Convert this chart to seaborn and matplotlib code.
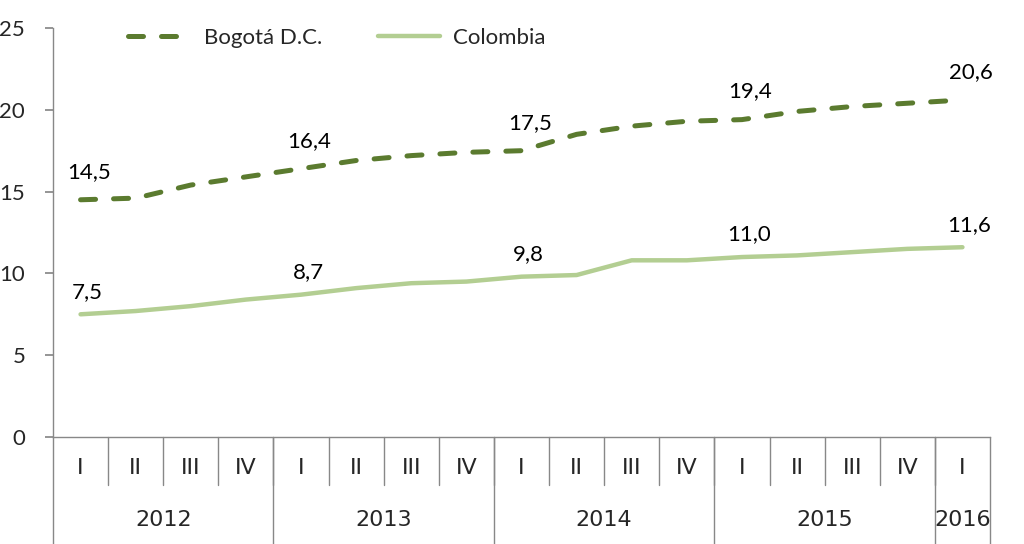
import matplotlib
matplotlib.use("Agg")
import matplotlib.pyplot as plt
import seaborn as sns
import pandas as pd
import numpy as np

quarters = ["I", "II", "III", "IV", "I", "II", "III", "IV", "I", "II", "III", "IV",
            "I", "II", "III", "IV", "I"]
years = ["2012", "2013", "2014", "2015", "2016"]
year_sizes = [4, 4, 4, 4, 1]
bogota = [14.5, 14.6, 15.4, 15.9, 16.4, 16.9, 17.2, 17.4, 17.5, 18.5, 19.0, 19.3,
          19.4, 19.9, 20.2, 20.4, 20.6]
colombia = [7.5, 7.7, 8.0, 8.4, 8.7, 9.1, 9.4, 9.5, 9.8, 9.9, 10.8, 10.8,
            11.0, 11.1, 11.3, 11.5, 11.6]
label_idx = [0, 4, 8, 12, 16]

sns.set_theme(style="white")
plt.rcParams['font.family'] = ['Lato', 'DejaVu Sans']

n = len(quarters)
df = pd.DataFrame({
    "x": list(range(n)) * 2,
    "valor": bogota + colombia,
    "serie": ["Bogotá D.C."] * n + ["Colombia"] * n,
})

fig = plt.figure(figsize=(10.24, 5.44), dpi=100)
ax = fig.add_axes([53/1024, 1 - 437/544, (990-53)/1024, (437-28)/544])

c_bog = "#5B7B2F"
c_col = "#B3CE92"
sns.lineplot(data=df, x="x", y="valor", hue="serie", style="serie",
             palette={"Bogotá D.C.": c_bog, "Colombia": c_col},
             dashes={"Bogotá D.C.": (3.0, 3.6), "Colombia": ""},
             linewidth=3.6, ax=ax, legend=False)
for ln in ax.lines:
    ln.set_dash_capstyle("round")
ax.lines[1].set_linewidth(3.2)

fs = 16
for i in label_idx:
    ax.annotate(f"{bogota[i]:.1f}".replace(".", ","), (i, bogota[i]), xytext=(6, 13),
                textcoords="offset points", ha="center", va="bottom", fontsize=fs, color="black")
    ax.annotate(f"{colombia[i]:.1f}".replace(".", ","), (i, colombia[i]), xytext=(5, 9),
                textcoords="offset points", ha="center", va="bottom", fontsize=fs, color="black")

ax.set_xlim(-0.5, n - 0.5)
ax.set_ylim(0, 25)
ax.set_yticks([0, 5, 10, 15, 20, 25])
ax.tick_params(axis="y", labelsize=fs, length=6, color="#888888", pad=14, left=True)
ax.set_xticks([])
ax.set_xlabel("")
ax.set_ylabel("")
for s in ["top", "right"]:
    ax.spines[s].set_visible(False)
for s in ["left", "bottom"]:
    ax.spines[s].set_color("#888888")
    ax.spines[s].set_linewidth(1.0)

# Multi-level category axis
narrow = ["Liberation Sans Narrow", "DejaVu Sans"]
trans = ax.get_xaxis_transform()
for i, q in enumerate(quarters):
    ax.text(i, -31/409, q, transform=trans, ha="center", va="center", fontsize=fs,
            fontfamily=narrow)
for b in range(1, n):
    ax.plot([b - 0.5, b - 0.5], [0, -48/409], transform=trans, color="#888888",
            lw=1.0, clip_on=False)
pos = -0.5
bounds = [pos]
for y, sz in zip(years, year_sizes):
    ax.text(pos + sz / 2, -83/409, y, transform=trans, ha="center", va="center",
            fontsize=fs, fontfamily=narrow)
    pos += sz
    bounds.append(pos)
for b in bounds:
    ax.plot([b, b], [0, -107/409], transform=trans, color="#888888", lw=1.0, clip_on=False)

# Legend
from matplotlib.lines import Line2D
handles = [Line2D([], [], color=c_bog, lw=3.6, dashes=(3.0, 3.6), dash_capstyle="round"),
           Line2D([], [], color=c_col, lw=3.2)]
ax.legend(handles, ["Bogotá D.C.", "Colombia"], loc="center", bbox_to_anchor=(0.303, 0.975),
          ncol=2, frameon=False, fontsize=fs, handlelength=2.8, columnspacing=2.5,
          handletextpad=0.6)

fig.savefig("out.png", dpi=100)
